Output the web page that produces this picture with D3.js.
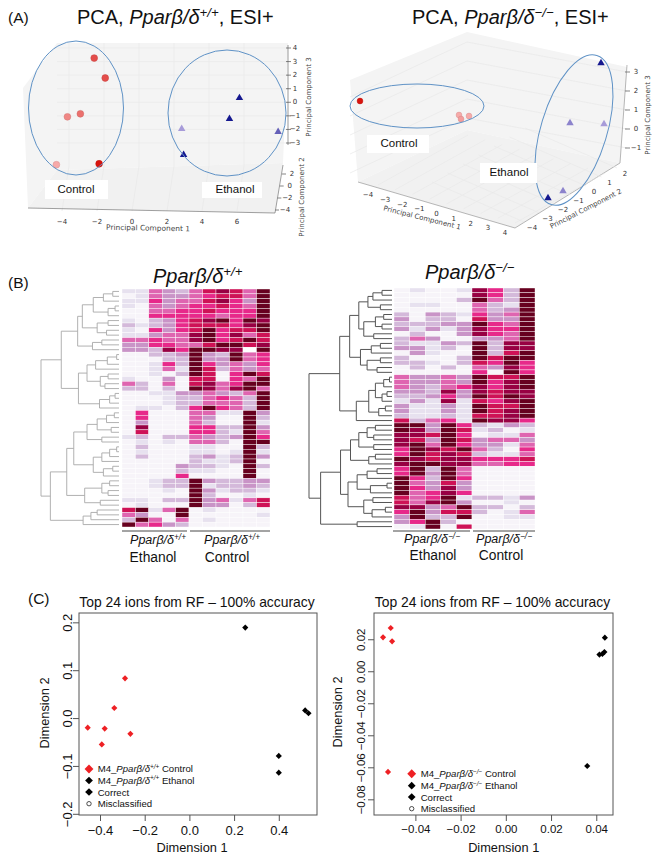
<!DOCTYPE html>
<html><head><meta charset="utf-8">
<script src="https://cdn.jsdelivr.net/npm/d3@7"></script>
<style>html,body{margin:0;padding:0;background:#fff}svg{display:block}text{font-family:"Liberation Sans",Arial,sans-serif;fill:#111}</style>
</head><body><svg id="c" width="664" height="859"></svg>
<script>
// ---------- DATA ----------
const pcaLeftControl=[[-2.16,3.26,.75],[-1.53,1.79,.75],[-3.69,-1.07,.5],[-2.95,-.85,.6],[-4.32,-4.6,.35],[-1.88,-4.53,1]];
const pcaLeftEthanol=[[6.14,.32,1],[5.57,-1.22,1],[8.35,-2.18,.7],[2.84,-1.96,.45],[2.95,-3.87,1]];
const pcaLeftTicks1=[-4,-2,0,2,4,6];
const pcaLeftTicks3=[4,3,2,1,0,-1,-2,-3];
const pcaLeftTicks2=[2,0,-2,-4];
const pcaRightControl=[[360,101,1],[459,115,.35],[461,119,.4],[469,116,.35]];
const pcaRightEthanol=[[601,63,1],[570,123,.55],[604,124,.45],[548,198,1],[563,191,.55]];
const pcaRightTicks1=[-4,-3,-2,-1,0,1,2,3,4];
const pcaRightTicks2=[-4,-3,-2,-1,0,1,2];
const pcaRightTicks3=[3,2,1,0,-1];

const heatLeft=[
[1,1,4,3,2,4,6,7,6,4,8],[0,1,4,3,3,4,5,6,6,4,8],[1,1,5,3,4,4,6,7,5,3,8],[1,0,4,3,4,5,5,6,5,4,8],
[0,0,4,4,5,5,6,5,5,5,8],[0,0,5,5,5,5,5,4,5,5,8],[1,0,2,3,5,6,7,8,5,8,7],[2,1,2,3,5,6,6,6,5,7,8],
[1,0,5,3,5,6,8,5,6,6,8],[1,1,3,4,4,7,8,5,7,4,6],[4,4,5,4,4,7,8,5,6,8,6],[3,3,5,5,4,4,6,8,8,6,7],
[3,3,2,7,5,8,8,7,7,-1,8],
[0,0,2,2,3,8,3,2,8,4,5],[0,0,0,2,2,8,3,3,8,4,5],[0,0,1,5,2,8,5,3,4,3,5],[0,0,1,4,1,8,6,2,4,3,4],
[0,0,1,0,2,8,6,0,5,8,6],[1,0,0,3,0,6,6,0,5,4,8],[4,2,0,4,0,6,7,4,5,8,8],[2,2,0,2,0,8,7,4,7,8,4],
[0,0,1,1,3,3,4,3,2,4,8],[0,0,0,1,2,2,4,5,4,2,8],[0,0,0,1,2,2,4,4,4,2,8],[0,1,1,0,2,5,8,5,4,2,8],
[0,5,0,0,0,4,4,1,1,8,3],[0,5,0,0,0,4,3,0,0,8,2],[0,3,0,0,0,4,2,0,0,8,1],[0,7,0,0,0,5,5,2,2,8,3],
[0,6,0,0,0,5,5,2,1,8,4],[1,2,0,2,2,4,3,2,3,8,5],[0,1,0,1,0,4,4,2,0,8,8],[0,2,0,0,0,1,1,0,0,8,2],
[0,1,0,0,0,1,1,0,1,8,1],[0,2,0,0,0,2,3,1,2,8,3],[0,0,0,0,0,2,1,1,2,8,0],[0,0,0,0,3,2,2,1,0,8,2],
[0,0,0,0,2,1,1,0,0,8,0],[0,0,0,0,5,0,0,0,0,8,0],
[0,0,1,2,2,8,3,2,2,3,3],[0,0,1,2,2,8,1,2,2,3,2],[0,0,0,1,0,8,3,1,2,2,1],[0,0,0,0,0,8,2,0,0,1,0],
[1,1,0,2,2,8,3,4,1,4,6],[0,1,0,0,0,8,3,3,0,2,6],
[6,8,1,4,8,0,1,0,0,0,0],[4,3,0,0,8,0,0,0,0,0,1],[2,8,4,0,4,0,1,0,0,0,0],[8,4,5,3,2,0,0,0,0,0,0]];
const heatRight=[
[0,1,0,0,1,7,5,2,8],[0,0,0,0,0,7,5,2,8],[0,0,0,0,2,8,4,2,8],[0,1,1,0,0,4,2,1,8],[0,0,0,0,0,4,2,3,8],
[2,0,3,2,1,5,3,4,8],[3,0,2,2,0,6,3,3,8],[2,2,2,3,3,8,5,4,8],[3,1,3,1,3,7,5,5,8],[0,2,0,0,3,7,5,4,8],
[2,4,3,0,0,3,3,4,8],[2,1,1,3,2,8,2,7,7],[3,3,1,2,0,8,2,7,7],[0,3,1,0,0,8,2,6,8],[2,0,0,0,2,8,6,8,8],
[2,2,1,0,2,6,5,8,5],[0,2,0,2,0,4,3,7,5],[0,0,0,0,0,5,0,8,5],
[4,3,3,4,3,8,6,6,8],[4,3,3,4,3,8,5,7,8],[4,3,2,4,5,7,5,7,8],[3,3,2,7,3,7,6,7,7],[2,2,3,5,3,8,6,8,7],
[1,3,1,7,1,6,5,7,8],[3,1,1,3,1,8,6,6,8],[3,1,1,3,1,8,6,7,8],[2,1,1,2,1,6,6,7,8],[6,2,4,5,1,8,7,7,5],
[8,8,3,8,5,2,1,3,2],[8,7,3,8,6,1,2,0,1],[7,7,6,8,5,0,1,1,4],[7,6,3,8,6,3,4,4,3],[7,8,4,8,5,3,3,1,4],
[5,8,7,6,8,4,2,0,5],[5,8,6,7,6,2,1,1,4],[8,7,6,7,7,5,5,5,6],[7,8,8,7,7,4,4,5,5],
[5,8,2,8,4,0,0,0,0],[5,8,3,8,4,0,0,0,0],[8,5,2,8,5,0,0,0,0],[8,4,3,6,3,0,0,0,0],[8,5,3,7,3,0,0,0,0],
[8,4,5,7,5,0,0,0,0],[6,4,5,8,1,2,2,1,3],[6,4,7,8,3,0,0,1,0],[7,7,3,4,8,2,2,0,2],[5,8,3,6,6,2,0,1,4],
[3,8,2,2,8,0,0,1,1],[3,5,8,2,0,0,0,0,0],[0,1,8,0,6,0,0,0,0]];
// dendrograms: [mergeHeight, left, right]; 1 = a leaf
const treeLeft=[100,
 [74,[53,[47,[33,[20,[8,1,1],1],[14,[5,1,1],1]],[28,[14,1,1],[16,1,1]]],[34,[22,1,1],1]],
     [52,[41,[30,[15,[3,1,1],1],1],[24,[14,1,1],[18,1,1]]],[25,[12,[5,1,1],1],1]]],
 [88,[67,[58,[41,[28,[16,[6,1,1],1],[10,1,1]],[22,1,1]],[33,[22,[12,[3,1,1],1],1],[20,[8,1,1],1]]],
         [44,[22,[12,1,1],[14,1,1]],[24,1,1]]],
     [46,[36,[28,1,1],1],1]]];
const treeRight=[100,
 [63,[51,[40,[29,[23,[12,1,1],1],[14,1,1]],[34,[20,[10,1,1],[12,1,1]],[22,1,1]]],
         [38,[25,[14,1,1],1],[30,[14,1,1],[18,1,1]]]],
     [43,[28,[20,[10,[3,1,1],1],[12,[6,1,1],1]],[16,[8,1,1],1]],1]],
 [86,[62,[50,[40,[30,[20,1,1],[22,1,1]],[22,1,1]],[28,[20,1,1],1]],
         [53,[42,[30,[18,1,1],1],[26,[6,1,1],1]],[34,[23,1,1],[24,[8,1,1],1]]]],
     [42,1,1]]];

const mdsLeftControl=[[-.455,-.02],[-.379,-.022],[-.336,.021],[-.288,.083],[-.264,-.033],[-.392,-.055]];
const mdsLeftEthanol=[[.25,.189],[.40,-.079],[.40,-.114],[.518,.016],[.533,.010]];
const mdsRightControl=[[-.0509,.027],[-.0543,.0212],[-.0503,.0187],[-.0521,-.0629]];
const mdsRightEthanol=[[.0438,.021],[.0414,.0104],[.0427,.0108],[.0436,.012],[.036,-.0592]];
const mdsLeftXTicks=[-.4,-.2,0,.2,.4], mdsLeftYTicks=[-.2,-.1,0,.1,.2];
const mdsRightXTicks=[-.04,-.02,0,.02,.04], mdsRightYTicks=[-.08,-.06,-.04,-.02,0,.02];

// ---------- HELPERS ----------
const svg=d3.select("#c");
function rich(g,x,y,parts,size,anchor){
  const t=g.append("text").attr("x",x).attr("y",y).attr("font-size",size).attr("text-anchor",anchor||"start");
  let prevSup=false;
  parts.forEach(p=>{
    const s=t.append("tspan").text(p.t);
    if(p.i)s.attr("font-style","italic");
    if(p.sup){s.attr("dy",-size*.36).attr("font-size",size*.66);prevSup=true;}
    else if(prevSup){s.attr("dy",size*.36);prevSup=false;}
  });
  return t;
}
const geno=(sup,extra)=>[{t:"Ppar\u03b2/\u03b4",i:1},{t:sup,i:1,sup:1}].concat(extra||[]);
const label=(g,x,y,s,size,o={})=>{const t=g.append("text").attr("x",x).attr("y",y).text(s).attr("font-size",size)
  .attr("text-anchor",o.anchor||"middle").attr("dominant-baseline","central");
  if(o.fam)t.style("font-family",o.fam);if(o.fill)t.style("fill",o.fill);if(o.rot!==undefined)t.attr("transform",`rotate(${o.rot},${x},${y})`);return t;};
const fmtMinus=v=>String(v).replace("-","\u2212");
const DJ='"DejaVu Sans"';
const line=d3.line();

// panel letters & titles
label(svg,8,17,"(A)",15.5,{anchor:"start"});
label(svg,8,282,"(B)",15.5,{anchor:"start"});
label(svg,28,598,"(C)",15.5,{anchor:"start"});
rich(svg,77,24,[{t:"PCA, "}].concat(geno("+/+",[{t:", ESI+"}])),20);
rich(svg,412,24,[{t:"PCA, "}].concat(geno("\u2212/\u2212",[{t:", ESI+"}])),20);
rich(svg,153,283,geno("+/+"),20);
rich(svg,425,279,geno("\u2212/\u2212"),20);

// ---------- PANEL A left ----------
const gA=svg.append("g");
const paneFill="#f4f4f4";
[[[57,43],[288,43],[283,163],[57,170]],[[23,88],[57,43],[57,170],[28,208]],[[28,208],[57,170],[283,163],[275,213]]]
 .forEach((p,i)=>gA.append("path").attr("d",line(p)+"Z").attr("fill",i==2?"#f1f1f1":paneFill));
const ax=d3.scaleLinear().domain([-4,6]).range([62,237]), ay=d3.scaleLinear().domain([4,-3]).range([48,143]);
pcaLeftTicks1.forEach(v=>{
  gA.append("line").attr("x1",ax(v)+7).attr("x2",ax(v)+7).attr("y1",43).attr("y2",166).attr("stroke","#e8e8e8").attr("stroke-width",.7);
  gA.append("line").attr("x1",ax(v)+7).attr("x2",ax(v)).attr("y1",166).attr("y2",211).attr("stroke","#e8e8e8").attr("stroke-width",.7);
  label(gA,ax(v),222,fmtMinus(v),7,{fam:DJ,fill:"#333"});
});
pcaLeftTicks3.forEach(v=>{
  gA.append("line").attr("x1",57).attr("x2",288).attr("y1",ay(v)).attr("y2",ay(v)).attr("stroke","#e9e9e9").attr("stroke-width",.7);
  gA.append("line").attr("x1",286).attr("x2",291).attr("y1",ay(v)).attr("y2",ay(v)).attr("stroke","#333").attr("stroke-width",.6);
  label(gA,295,ay(v),fmtMinus(v),7,{fam:DJ,fill:"#333"});
});
gA.append("line").attr("x1",288).attr("x2",288).attr("y1",45).attr("y2",145).attr("stroke","#555").attr("stroke-width",.6);
const a2x=d3.scaleLinear().domain([2,-4]).range([292,285]), a2y=d3.scaleLinear().domain([2,-4]).range([174,210]);
pcaLeftTicks2.forEach(v=>{label(gA,a2x(v),a2y(v),fmtMinus(v),7,{fam:DJ,fill:"#333"});
  gA.append("line").attr("x1",a2x(v)-10).attr("x2",a2x(v)-6).attr("y1",a2y(v)).attr("y2",a2y(v)).attr("stroke","#333").attr("stroke-width",.6);});
gA.append("path").attr("d",line([[28,208],[275,213],[283,165]])).attr("fill","none").attr("stroke","#777").attr("stroke-width",.7);
label(gA,148,228,"Principal Component 1",7.4,{fam:DJ,fill:"#444",rot:1});
label(gA,309,97,"Principal Component 3",7,{fam:DJ,fill:"#444",rot:-90});
label(gA,302,197,"Principal Component 2",7,{fam:DJ,fill:"#444",rot:-90});
const redA=d3.scaleLinear().domain([.3,1]).range(["#f9b5b5","#d9140e"]);
const blueA=d3.scaleLinear().domain([.4,1]).range(["#b4a7e0","#15188f"]);
const tri=d3.symbol().type(d3.symbolTriangle).size(24);
gA.selectAll(null).data(pcaLeftControl).join("circle").attr("cx",d=>ax(d[0])).attr("cy",d=>ay(d[1])).attr("r",3.4)
  .attr("fill",d=>redA(d[2])).attr("stroke",d=>d3.color(redA(d[2])).darker(.4)).attr("stroke-width",.5);
gA.selectAll(null).data(pcaLeftEthanol).join("path").attr("d",tri).attr("transform",d=>`translate(${ax(d[0])},${ay(d[1])})`).attr("fill",d=>blueA(d[2]));
gA.append("ellipse").attr("cx",76).attr("cy",108).attr("rx",47.5).attr("ry",67).attr("fill","none").attr("stroke","#5f92c6").attr("stroke-width",1);
gA.append("ellipse").attr("cx",227).attr("cy",113).attr("rx",59).attr("ry",63).attr("fill","none").attr("stroke","#5f92c6").attr("stroke-width",1);
gA.append("rect").attr("x",45).attr("y",180).attr("width",63).attr("height",19).attr("fill","#fff");
gA.append("rect").attr("x",202).attr("y",182).attr("width",60).attr("height",16).attr("fill","#fff");
label(gA,76,189,"Control",11.5);label(gA,235,189,"Ethanol",11.5);

// ---------- PANEL A right ----------
const gR=svg.append("g");
[[[350,80],[467,32],[467,130],[358,182]],[[467,32],[627,67],[620,163],[467,130]],[[358,182],[467,130],[620,163],[515,228]]]
 .forEach((p,i)=>gR.append("path").attr("d",line(p)+"Z").attr("fill",i==2?"#f1f1f1":paneFill));
const r3=d3.scaleLinear().domain([3,-1]).range([72,148]);
pcaRightTicks3.forEach(v=>{
  gR.append("path").attr("d",line([[467,r3(v)-30],[627,r3(v)]])).attr("stroke","#e8e8e8").attr("stroke-width",.7).attr("fill","none");
  gR.append("path").attr("d",line([[350,r3(v)+25],[467,r3(v)-30]])).attr("stroke","#e8e8e8").attr("stroke-width",.7).attr("fill","none");
  gR.append("line").attr("x1",625).attr("x2",630).attr("y1",r3(v)).attr("y2",r3(v)).attr("stroke","#333").attr("stroke-width",.6);
  label(gR,636,r3(v),fmtMinus(v),7,{fam:DJ,fill:"#333"});
});
gR.append("path").attr("d",line([[627,65],[620,163],[515,228],[358,182]])).attr("fill","none").attr("stroke","#888").attr("stroke-width",.6);
const r1x=d3.scaleLinear().domain([-4,4]).range([368,505]), r1y=d3.scaleLinear().domain([-4,4]).range([195,233]);
pcaRightTicks1.forEach(v=>{label(gR,r1x(v),r1y(v),fmtMinus(v),7,{fam:DJ,fill:"#333"});
  gR.append("line").attr("x1",r1x(v)+10).attr("x2",r1x(v)+100).attr("y1",r1y(v)-10).attr("y2",r1y(v)-60).attr("stroke","#e8e8e8").attr("stroke-width",.6);});
const r2x=d3.scaleLinear().domain([-4,2]).range([532,625]), r2y=d3.scaleLinear().domain([-4,2]).range([228,174]);
pcaRightTicks2.forEach(v=>{label(gR,r2x(v),r2y(v),fmtMinus(v),7,{fam:DJ,fill:"#333"});
  gR.append("line").attr("x1",r2x(v)-8).attr("x2",r2x(v)-100).attr("y1",r2y(v)-6).attr("y2",r2y(v)-46).attr("stroke","#e8e8e8").attr("stroke-width",.6);});
label(gR,422,218,"Principal Component 1",7,{fam:DJ,fill:"#444",rot:14});
label(gR,586,209,"Principal Component 2",7,{fam:DJ,fill:"#444",rot:-27});
label(gR,648,115,"Principal Component 3",7,{fam:DJ,fill:"#444",rot:-90});
gR.selectAll(null).data(pcaRightControl).join("circle").attr("cx",d=>d[0]).attr("cy",d=>d[1]).attr("r",2.9)
  .attr("fill",d=>redA(d[2])).attr("stroke",d=>d3.color(redA(d[2])).darker(.4)).attr("stroke-width",.5);
gR.selectAll(null).data(pcaRightEthanol).join("path").attr("d",tri).attr("transform",d=>`translate(${d[0]},${d[1]})`).attr("fill",d=>blueA(d[2]));
gR.append("ellipse").attr("cx",417).attr("cy",106).attr("rx",67).attr("ry",22).attr("fill","none").attr("stroke","#5f92c6");
gR.append("ellipse").attr("cx",0).attr("cy",0).attr("rx",33).attr("ry",78).attr("transform","translate(574,130) rotate(17)").attr("fill","none").attr("stroke","#5f92c6");
gR.append("rect").attr("x",367).attr("y",135).attr("width",62).attr("height",18).attr("fill","#fff");
gR.append("rect").attr("x",480).attr("y",163).attr("width",57).attr("height",20).attr("fill","#fff");
label(gR,399,143,"Control",11.5);label(gR,509,172,"Ethanol",11.5);

// ---------- PANEL B ----------
function heat(data,x0,xSplit,x1,nE,y0,y1){
  const g=svg.append("g"), nC=data[0].length-nE;
  const xE=d3.scaleBand().domain(d3.range(nE)).range([x0,xSplit]);
  const xC=d3.scaleBand().domain(d3.range(nC)).range([xSplit,x1]);
  const y=d3.scaleBand().domain(d3.range(data.length)).range([y0,y1]);
  const col=v=>v<0?"#fff":d3.schemePuRd[9][v];
  data.forEach((row,i)=>row.forEach((v,j)=>{
    const c=j<nE?xE(j):xC(j-nE), w=j<nE?xE.bandwidth():xC.bandwidth();
    g.append("rect").attr("x",c).attr("y",y(i)).attr("width",w).attr("height",y.bandwidth())
      .attr("fill",col(v)).attr("stroke","#fff").attr("stroke-width",.4);
  }));
  return y;
}
function dendro(tree,y,xRoot,xLeaf,stroke,width){
  const h=d3.scaleLinear().domain([0,100]).range([xLeaf,xRoot]);
  const root=d3.hierarchy(tree,d=>Array.isArray(d)?d.slice(1):null);
  let k=0;
  root.eachAfter(n=>{
    if(!n.children){n.py=y(k++)+y.bandwidth()/2;n.px=h(0);}
    else{n.py=(n.children[0].py+n.children[1].py)/2;n.px=h(n.data[0]);}
  });
  const p=d3.path();
  root.descendants().filter(n=>n.children).forEach(n=>{
    const [a,b]=n.children;
    p.moveTo(a.px,a.py);p.lineTo(n.px,a.py);p.lineTo(n.px,b.py);p.lineTo(b.px,b.py);
  });
  svg.append("path").attr("d",p.toString()).attr("fill","none").attr("stroke",stroke).attr("stroke-width",width);
}
const yL=heat(heatLeft,122,189,270,5,289,527);
dendro(treeLeft,yL,41,119,"#a8a8a8",.9);
const yR=heat(heatRight,394,472,535,5,288,529);
dendro(treeRight,yR,309,392,"#555",1);
function bracket(x1,x2,y){svg.append("line").attr("x1",x1).attr("x2",x2).attr("y1",y).attr("y2",y).attr("stroke","#333").attr("stroke-width",.9);}
bracket(122,187,531);bracket(190,270,531);bracket(393,470,531);bracket(473,535,531);
rich(svg,158,544,geno("+/+"),12.5,"middle");rich(svg,232,544,geno("+/+"),12.5,"middle");
rich(svg,432,543,geno("\u2212/\u2212"),12.5,"middle");rich(svg,504,543,geno("\u2212/\u2212"),12.5,"middle");
label(svg,153,557,"Ethanol",13.8);label(svg,227,557,"Control",13.8);
label(svg,433,555,"Ethanol",13.8);label(svg,501,555,"Control",13.8);

// ---------- PANEL C ----------
function mds(o){
  const g=svg.append("g");
  const x=d3.scaleLinear().domain(o.xd).range([o.box[0],o.box[1]]), y=d3.scaleLinear().domain(o.yd).range([o.box[3],o.box[2]]);
  g.append("rect").attr("x",o.box[0]).attr("y",o.box[2]).attr("width",o.box[1]-o.box[0]).attr("height",o.box[3]-o.box[2]).attr("fill","none").attr("stroke","#555").attr("stroke-width",1);
  const ax1=g.append("g").attr("transform",`translate(0,${o.box[3]})`).call(d3.axisBottom(x).tickValues(o.xt).tickSize(6).tickSizeOuter(0).tickFormat(d3.format(o.fmt)));
  const ax2=g.append("g").attr("transform",`translate(${o.box[0]},0)`).call(d3.axisLeft(y).tickValues(o.yt).tickSize(6).tickSizeOuter(0).tickFormat(d3.format(o.fmt)));
  [ax1,ax2].forEach(a=>{a.select(".domain").remove();a.selectAll("line").attr("stroke","#555");
    a.selectAll("text").style("font-family",'"Liberation Sans",Arial,sans-serif').attr("font-size",o.tickSize).style("fill","#111");});
  ax1.selectAll("text").attr("y",o.xLabY).attr("dy","0.32em");
  ax2.selectAll("text").attr("text-anchor","middle").attr("x",null).attr("dy",null).attr("dominant-baseline","central")
    .attr("transform",`translate(${-o.yLabX},0) rotate(-90)`);
  label(g,o.titleX,602,"Top 24 ions from RF \u2013 100% accuracy",13.9);
  label(g,o.xTitleX,847,"Dimension 1",12.8);
  label(g,o.yTitleX,o.yTitleY,"Dimension 2",12.8,{rot:-90});
  const dia=d3.symbol().type(d3.symbolDiamond2).size(24);
  g.selectAll(null).data(o.red).join("path").attr("d",dia).attr("transform",d=>`translate(${x(d[0])},${y(d[1])})`).attr("fill","#ee2024");
  g.selectAll(null).data(o.black).join("path").attr("d",dia).attr("transform",d=>`translate(${x(d[0])},${y(d[1])})`).attr("fill","#000");
  const lg=o.legend, big=d3.symbol().type(d3.symbolDiamond2);
  g.append("path").attr("d",big.size(50)()).attr("transform",`translate(${lg.mx},${lg.ys[0]})`).attr("fill","#ee2024");
  g.append("path").attr("d",big.size(38)()).attr("transform",`translate(${lg.mx},${lg.ys[1]})`).attr("fill","#000");
  g.append("path").attr("d",big.size(38)()).attr("transform",`translate(${lg.mx},${lg.ys[2]})`).attr("fill","#000");
  g.append("circle").attr("cx",lg.mx).attr("cy",lg.ys[3]).attr("r",2.2).attr("fill","none").attr("stroke","#222").attr("stroke-width",.8);
  const tx=lg.tx,fs=9.6;
  rich(g,tx,lg.ys[0]+3.4,[{t:"M4_"},...geno(o.sup),{t:" Control"}],fs);
  rich(g,tx,lg.ys[1]+3.4,[{t:"M4_"},...geno(o.sup),{t:" Ethanol"}],fs);
  label(g,tx,lg.ys[2],"Correct",fs,{anchor:"start"});
  label(g,tx,lg.ys[3],"Misclassified",fs,{anchor:"start"});
}
mds({box:[79,317,613,815],xd:[-.494,.571],yd:[-.2025,.2195],xt:mdsLeftXTicks,yt:mdsLeftYTicks,fmt:".1f",tickSize:13,xLabY:16,yLabX:11.5,
 titleX:197,xTitleX:192,yTitleX:44,yTitleY:713,red:mdsLeftControl,black:mdsLeftEthanol,sup:"+/+",legend:{mx:89,tx:97.7,ys:[769,780.5,792,803.7]}});
mds({box:[374,613,613,815],xd:[-.0583,.0474],yd:[-.0898,.0364],xt:mdsRightXTicks,yt:mdsRightYTicks,fmt:".2f",tickSize:11.5,xLabY:14,yLabX:13.5,
 titleX:492.5,xTitleX:503.7,yTitleX:337,yTitleY:712,red:mdsRightControl,black:mdsRightEthanol,sup:"\u2212/\u2212",legend:{mx:411.7,tx:420.7,ys:[773.7,785.7,797,808.7]}});
</script></body></html>
